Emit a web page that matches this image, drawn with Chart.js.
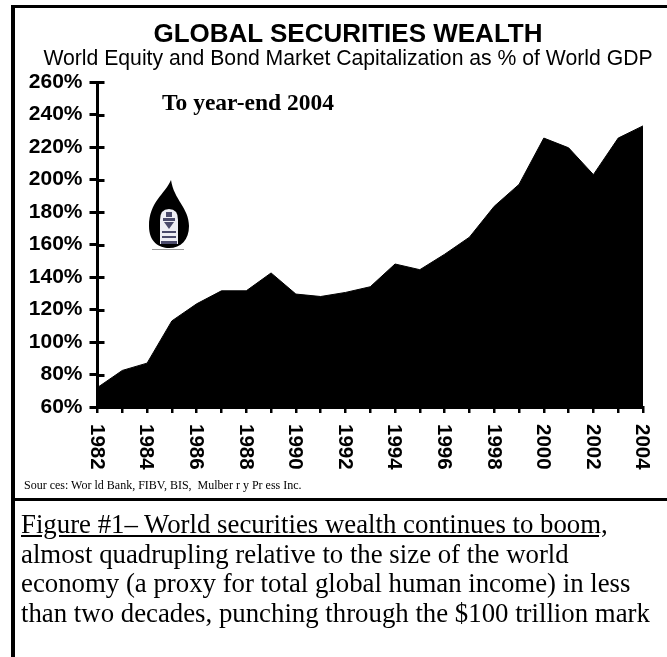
<!DOCTYPE html>
<html>
<head>
<meta charset="utf-8">
<script src="https://cdn.jsdelivr.net/npm/chart.js@4.4.1/dist/chart.umd.min.js"></script>
<style>
  body { margin: 0; background: #fff; width: 667px; height: 657px; overflow: hidden; position: relative; }
  #frame { position: absolute; left: 11px; top: 5px; width: 700px; height: 660px; border-left: 4px solid #000; border-top: 3px solid #000; }
  #sep { position: absolute; left: 11px; top: 498px; width: 700px; height: 3px; background: #000; }
  #chart { position: absolute; left: 0; top: 0; }
  .head { position: absolute; left: 0; width: 696px; text-align: center; font-family: "Liberation Sans", Arial, sans-serif; color: #000; white-space: nowrap; line-height: 1; }
  #title { top: 20px; font-size: 26px; font-weight: bold; }
  #subtitle { top: 46.5px; font-size: 21.2px; }
  #sources { position: absolute; left: 24px; top: 479px; font: 12px "Liberation Serif", "Times New Roman", serif; line-height: 1; white-space: nowrap; }
  #caption { position: absolute; left: 21px; top: 510px; font: 26.8px "Liberation Serif", "Times New Roman", serif; line-height: 29.7px; white-space: nowrap; color: #000; }
</style>
</head>
<body>
<div id="frame"></div>
<canvas id="chart" width="667" height="500"></canvas>
<div class="head" id="title">GLOBAL SECURITIES WEALTH</div>
<div class="head" id="subtitle">World Equity and Bond Market Capitalization as % of World GDP</div>
<div id="sources">Sour ces: Wor ld Bank, FIBV, BIS,&nbsp; Mulber r y Pr ess Inc.</div>
<div id="sep"></div>
<div id="caption"><u>Figure #1– World securities wealth continues to boom,</u><br>almost quadrupling relative to the size of the world<br>economy (a proxy for total global human income) in less<br>than two decades, punching through the $100 trillion mark</div>
<script>
  // data
  const years = ["1982","1983","1984","1985","1986","1987","1988","1989","1990","1991","1992","1993",
                 "1994","1995","1996","1997","1998","1999","2000","2001","2002","2003","2004"];
  const wealthPct = [72, 82.5, 87, 113, 123.5, 131.5, 131.5, 142.5, 129.5, 128, 130.5, 134,
                     148, 144.5, 154, 164.5, 183.5, 197, 225.5, 219.5, 203, 225.5, 233];
  const xTickLabels = ["1982","1984","1986","1988","1990","1992","1994","1996","1998","2000","2002","2004"];
  const yTicks = [60, 80, 100, 120, 140, 160, 180, 200, 220, 240, 260];
  const noteText = "To year-end 2004";

  const SANS = '"Liberation Sans", Arial, sans-serif';
  const SERIF = '"Liberation Serif", "Times New Roman", serif';

  // inner half of the y ticks, rotated x labels, note and logo
  const extras = {
    id: "extras",
    afterDraw(chart) {
      const ctx = chart.ctx;
      const x = chart.scales.x, y = chart.scales.y;
      const area = chart.chartArea;
      ctx.save();
      ctx.strokeStyle = "#000";
      ctx.lineWidth = 3;
      yTicks.forEach(v => {
        const py = Math.round(y.getPixelForValue(v)) + 0.5;
        ctx.beginPath();
        ctx.moveTo(area.left, py);
        ctx.lineTo(area.left + 7, py);
        ctx.stroke();
      });

      ctx.fillStyle = "#000";
      ctx.font = "bold 20.5px " + SANS;
      ctx.textAlign = "left";
      ctx.textBaseline = "middle";
      xTickLabels.forEach(lab => {
        const px = x.getPixelForValue(years.indexOf(lab));
        ctx.save();
        ctx.translate(px - 1, area.bottom + 17);
        ctx.rotate(Math.PI / 2);
        ctx.fillText(lab, 0, 0);
        ctx.restore();
      });

      ctx.font = "bold 23.5px " + SERIF;
      ctx.textBaseline = "alphabetic";
      ctx.fillText(noteText, 162, 110);

      // logo: black drop with a pale hooded figure inside
      const cx = 169, cy = 224;
      ctx.beginPath();
      ctx.moveTo(cx + 2, cy - 44);
      ctx.bezierCurveTo(cx - 4, cy - 30, cx - 20, cy - 22, cx - 20, cy + 2);
      ctx.bezierCurveTo(cx - 20, cy + 18, cx - 10, cy + 24, cx, cy + 24);
      ctx.bezierCurveTo(cx + 12, cy + 24, cx + 20, cy + 16, cx + 20, cy + 2);
      ctx.bezierCurveTo(cx + 20, cy - 16, cx + 5, cy - 24, cx + 2, cy - 44);
      ctx.closePath();
      ctx.fill();
      ctx.fillStyle = "#eeeef4";
      ctx.beginPath();
      ctx.moveTo(cx - 9, cy + 20);
      ctx.lineTo(cx - 9, cy - 4);
      ctx.quadraticCurveTo(cx - 9, cy - 15, cx, cy - 15);
      ctx.quadraticCurveTo(cx + 9, cy - 15, cx + 9, cy - 4);
      ctx.lineTo(cx + 9, cy + 20);
      ctx.closePath();
      ctx.fill();
      ctx.fillStyle = "#4a4a6a";
      ctx.fillRect(cx - 3, cy - 12, 6, 5);
      ctx.fillRect(cx - 6, cy - 6, 12, 3);
      ctx.beginPath();
      ctx.moveTo(cx - 5, cy - 2);
      ctx.lineTo(cx + 5, cy - 2);
      ctx.lineTo(cx, cy + 5);
      ctx.closePath();
      ctx.fill();
      ctx.fillRect(cx - 7, cy + 7, 14, 2);
      ctx.fillRect(cx - 7, cy + 12, 14, 2);
      ctx.fillRect(cx - 8, cy + 17, 16, 3);
      ctx.strokeStyle = "#999";
      ctx.lineWidth = 1;
      ctx.beginPath();
      ctx.moveTo(cx - 17, cy + 25.5);
      ctx.lineTo(cx + 15, cy + 25.5);
      ctx.stroke();
      ctx.restore();
    }
  };

  new Chart(document.getElementById("chart"), {
    type: "line",
    data: {
      labels: years,
      datasets: [{
        data: wealthPct,
        fill: "start",
        backgroundColor: "#000",
        borderColor: "#000",
        borderWidth: 1,
        pointRadius: 0,
        tension: 0
      }]
    },
    options: {
      responsive: false,
      animation: false,
      devicePixelRatio: 1,
      layout: { padding: { top: 82, right: 24, bottom: 87, left: 0 } },
      plugins: { legend: { display: false }, tooltip: { enabled: false } },
      scales: {
        x: {
          offset: false,
          grid: { drawOnChartArea: false, tickLength: 6, lineWidth: 2.5, color: "#000" },
          border: { color: "#000", width: 3 },
          ticks: { display: false }
        },
        y: {
          min: 60,
          max: 260,
          afterFit: (s) => { s.width = 97.5; },
          grid: { drawOnChartArea: false, tickLength: 8, lineWidth: 3, color: "#000" },
          border: { color: "#000", width: 3 },
          ticks: {
            stepSize: 20,
            padding: 7,
            color: "#000",
            font: { family: SANS, size: 21, weight: "bold" },
            callback: (v) => v + "%"
          }
        }
      }
    },
    plugins: [extras]
  });
</script>
</body>
</html>
